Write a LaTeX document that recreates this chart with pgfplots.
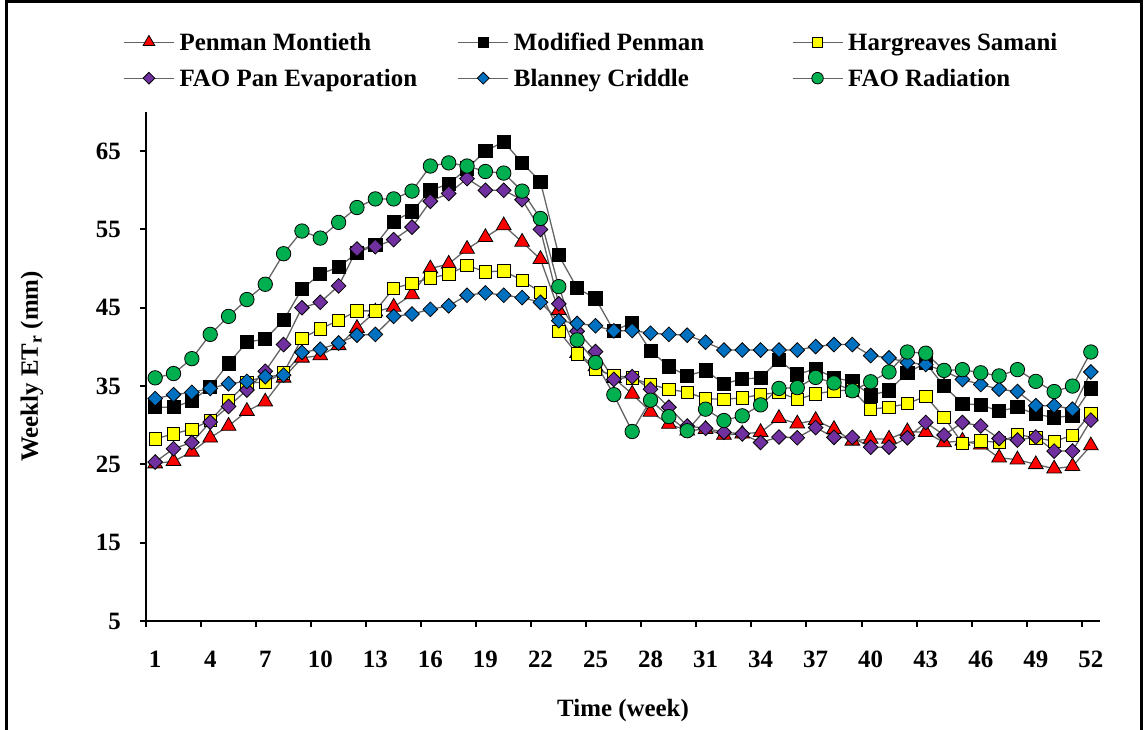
\documentclass[border=0pt]{standalone}
\usepackage{fontspec}
\setmainfont{Liberation Serif}
\usepackage{pgfplots}
\usepackage{pgfplotstable}
\pgfplotsset{compat=1.18}

\newcommand{\chartfont}{\fontsize{25}{29}\selectfont\bfseries}
% uniform height for legend rows
\newcommand{\legrow}{\rule[-9.5bp]{0pt}{36bp}}

\definecolor{pmred}{RGB}{255,0,0}
\definecolor{mpblack}{RGB}{0,0,0}
\definecolor{hsyellow}{RGB}{255,255,0}
\definecolor{fppurple}{RGB}{112,48,160}
\definecolor{bcblue}{RGB}{0,112,192}
\definecolor{frgreen}{RGB}{0,176,80}
\definecolor{linegray}{RGB}{100,100,100}

% Weekly reference evapotranspiration (mm) by method
\pgfplotstableread{
wk PM    MP    HS    FP    BC    FR
1  25.1  32.3  28.25 25.3  33.4  36.05
2  25.4  32.3  28.9  27.0  33.9  36.6
3  26.6  33.1  29.5  27.8  34.2  38.5
4  28.4  34.9  30.6  30.4  34.7  41.6
5  29.9  37.9  33.1  32.4  35.3  43.9
6  31.8  40.6  35.4  34.5  35.6  46.05
7  33.0  41.0  35.5  36.9  36.2  48.0
8  36.05 43.4  36.7  40.3  36.4  51.9
9  38.6  47.4  41.1  45.0  39.3  54.8
10 38.9  49.3  42.3  45.7  39.7  53.9
11 40.2  50.2  43.4  47.8  40.5  55.9
12 42.4  52.0  44.6  52.5  41.5  57.8
13 44.5  53.0  44.6  52.8  41.6  58.9
14 45.1  56.0  47.5  53.7  43.9  58.9
15 46.7  57.3  48.1  55.3  44.2  59.9
16 50.0  60.0  48.8  58.6  44.8  63.1
17 50.6  60.8  49.3  59.6  45.25 63.5
18 52.5  62.8  50.4  61.5  46.6  63.1
19 54.0  65.0  49.6  60.0  46.9  62.4
20 55.5  66.2  49.7  60.0  46.6  62.2
21 53.4  63.5  48.5  58.8  46.3  59.9
22 51.2  61.1  47.0  55.0  45.7  56.4
23 44.7  51.7  42.0  45.5  43.35 47.7
24 39.2  47.5  39.1  42.0  43.0  40.9
25 37.5  46.2  37.1  39.4  42.7  38.0
26 36.0  42.05 36.35 35.85 42.05 33.9
27 34.0  43.1  36.05 36.2  42.1  29.2
28 31.7  39.5  35.2  34.6  41.75 33.2
29 30.15 37.5  34.6  32.3  41.6  31.1
30 29.3  36.3  34.2  29.9  41.5  29.3
31 29.5  37.0  33.4  29.6  40.6  32.05
32 28.75 35.3  33.3  29.1  39.6  30.6
33 28.9  35.9  33.5  28.9  39.6  31.2
34 29.1  36.05 33.9  27.8  39.6  32.6
35 30.9  38.3  34.2  28.5  39.6  34.7
36 30.2  36.5  33.3  28.4  39.6  34.8
37 30.65 37.2  34.0  29.7  40.05 36.1
38 29.5  36.05 34.4  28.45 40.3  35.4
39 28.0  35.6  34.5  28.45 40.3  34.4
40 28.25 33.8  32.05 27.2  38.9  35.55
41 28.25 34.45 32.3  27.2  38.6  36.8
42 29.2  36.7  32.75 28.4  38.0  39.35
43 29.1  37.95 33.7  30.35 37.75 39.2
44 27.8  35.0  31.0  28.75 36.9  37.0
45 28.0  32.75 27.7  30.35 35.85 37.1
46 27.5  32.6  28.0  29.9  35.2  36.7
47 25.85 31.8  27.8  28.3  34.6  36.3
48 25.6  32.3  28.8  28.1  34.3  37.1
49 25.0  31.4  28.4  28.5  32.5  35.6
50 24.45 31.0  27.95 26.7  32.5  34.3
51 24.75 31.2  28.7  26.7  32.05 35.0
52 27.4  34.7  31.5  30.65 36.8  39.35
}\etdata

\begin{document}
\begin{tikzpicture}
\useasboundingbox (0,0) rectangle (1144bp,730bp);
\begin{axis}[
  at={(146bp,109bp)}, anchor=south west,
  scale only axis, width=954bp, height=509bp,
  xmin=0.5, xmax=52.5, ymin=5, ymax=70,
  clip=false,
  axis lines=left,
  axis line style={-, line width=2.5bp, black},
  tick align=outside,
  major tick length=6bp,
  every tick/.style={line width=2bp, black},
  xtick={0.5,3.5,...,51.5},
  xticklabels={1,4,7,10,13,16,19,22,25,28,31,34,37,40,43,46,49,52},
  ytick={5,15,...,65},
  /pgf/number format/assume math mode=true,
  ticklabel style={font=\chartfont, inner sep=0pt},
  xticklabel style={anchor=north, xshift=9.19bp, yshift=-24bp},
  yticklabel style={anchor=east, xshift=-19bp},
  xlabel={Time (week)},
  ylabel={Weekly ET\textsubscript{r} (mm)},
  every axis x label/.style={at={(axis description cs:0.5,-0.175)}, anchor=center, font=\chartfont},
  every axis y label/.style={at={(axis description cs:-0.1195,0.5)}, anchor=center, rotate=90, font=\chartfont},
  legend columns=3,
  legend cell align=left,
  legend style={at={(axis description cs:-0.024,1.1729)}, anchor=north west,
    draw=none, fill=none, inner sep=0pt, font=\chartfont,
    nodes={inner sep=0pt, text depth=}},
  /tikz/every odd column/.append style={column sep=5bp},
  legend image code/.code={
    \draw[mark repeat=2, mark phase=2, #1, every mark/.append style={scale=0.8}]
      plot coordinates {(0bp,0bp) (25bp,0bp) (50bp,0bp)};
  },
  every axis plot/.append style={line width=1.3bp, color=linegray},
]
\addplot[mark=triangle*, mark size=8.5bp,
  mark options={solid, draw=black, line width=0.8bp, fill=pmred}]
  table[x=wk, y=PM]{\etdata};
\addlegendentry{\makebox[278bp][l]{\legrow Penman Montieth}}
\addplot[mark=square*, mark size=6.6bp,
  mark options={solid, draw=black, line width=0.8bp, fill=mpblack}]
  table[x=wk, y=MP]{\etdata};
\addlegendentry{\makebox[278bp][l]{\legrow Modified Penman}}
\addplot[mark=square*, mark size=6.2bp,
  mark options={solid, draw=black, line width=0.8bp, fill=hsyellow}]
  table[x=wk, y=HS]{\etdata};
\addlegendentry{\legrow Hargreaves Samani}
\addplot[mark=square*, mark size=5.2bp,
  mark options={solid, draw=black, line width=0.8bp, fill=fppurple, rotate=45}]
  table[x=wk, y=FP]{\etdata};
\addlegendentry{\makebox[278bp][l]{\legrow FAO Pan Evaporation}}
\addplot[mark=square*, mark size=5.2bp,
  mark options={solid, draw=black, line width=0.8bp, fill=bcblue, rotate=45}]
  table[x=wk, y=BC]{\etdata};
\addlegendentry{\makebox[278bp][l]{\legrow Blanney Criddle}}
\addplot[mark=*, mark size=7.2bp,
  mark options={solid, draw=black, line width=0.8bp, fill=frgreen}]
  table[x=wk, y=FR]{\etdata};
\addlegendentry{\legrow FAO Radiation}
\end{axis}
% outer frame around the figure
\draw[line width=3bp, black] (6bp,-10bp) -- (6bp,728.5bp) -- (1141bp,728.5bp) -- (1141bp,-10bp);
\end{tikzpicture}
\end{document}
